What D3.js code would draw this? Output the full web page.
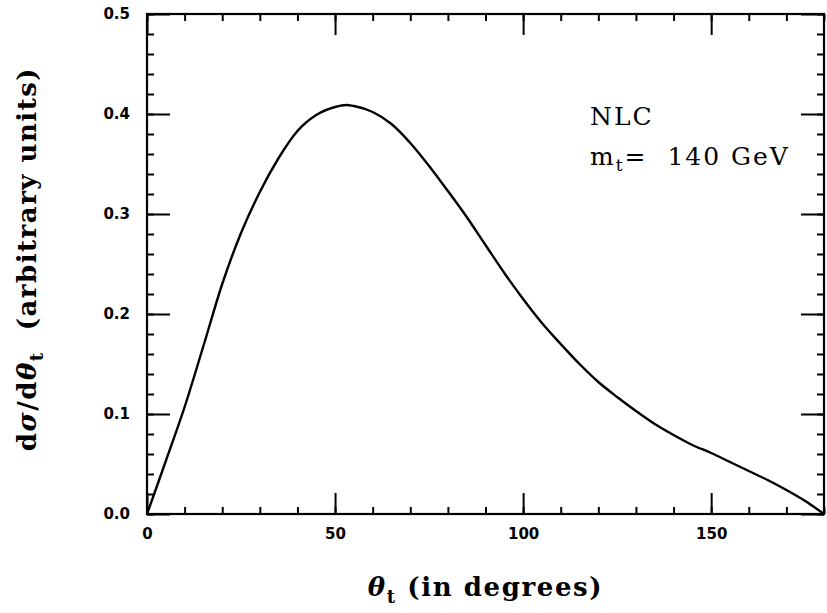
<!DOCTYPE html>
<html>
<head>
<meta charset="utf-8">
<script src="https://cdn.jsdelivr.net/npm/d3@7"></script>
<style>
  body { margin: 0; background: #fff; }
  .tick text { font-family: "DejaVu Sans", sans-serif; font-weight: bold; font-size: 15px; fill: #000; }
  .lbl { font-family: "DejaVu Serif", serif; fill: #000; white-space: pre; }
</style>
</head>
<body>
<svg id="chart" width="827" height="613"></svg>
<script>
/* d sigma / d theta_t curve, NLC, m_t = 140 GeV */

// angle in degrees
const thetaDeg = [0, 2, 5, 10, 15, 20, 25, 30, 35, 40, 45, 50, 53, 55, 60, 65, 70, 75,
  80, 85, 90, 95, 100, 105, 110, 115, 120, 125, 130, 135, 140, 145, 150, 155,
  160, 165, 170, 175, 180];
// cross section (arbitrary units)
const dSigma = [0, 0.021, 0.053, 0.107, 0.168, 0.23, 0.281, 0.322, 0.356, 0.383, 0.399, 0.407,
  0.409, 0.408, 0.402, 0.39, 0.371, 0.348, 0.323, 0.297, 0.269, 0.241, 0.215, 0.191,
  0.17, 0.15, 0.132, 0.117, 0.103, 0.09, 0.079, 0.069, 0.061, 0.052, 0.043, 0.034,
  0.024, 0.013, 0];

const xMajor = [0, 50, 100, 150];
const xMinor = d3.range(0, 181, 10);
const yMajor = [0, 0.1, 0.2, 0.3, 0.4, 0.5];
const yMinor = d3.range(0, 0.501, 0.02);

const margin = { top: 14, right: 3, bottom: 99, left: 147 },
  width = 827 - margin.left - margin.right,
  height = 613 - margin.top - margin.bottom;

const svg = d3.select("#chart")
  .append("g")
  .attr("transform", "translate(" + margin.left + "," + margin.top + ")");

const x = d3.scaleLinear().domain([0, 180]).range([0, width]);
const y = d3.scaleLinear().domain([0, 0.5]).range([height, 0]);

function styleAxis(g) {
  g.select(".domain").remove();
  g.selectAll(".tick line").attr("stroke", "#000").attr("stroke-width", 2);
}

// minor ticks on all four sides, pointing inward
svg.append("g").attr("transform", "translate(0," + height + ")")
  .call(d3.axisBottom(x).tickValues(xMinor).tickSize(-7).tickFormat(""))
  .call(styleAxis);
svg.append("g")
  .call(d3.axisTop(x).tickValues(xMinor).tickSize(-7).tickFormat(""))
  .call(styleAxis);
svg.append("g")
  .call(d3.axisLeft(y).tickValues(yMinor).tickSize(-7).tickFormat(""))
  .call(styleAxis);
svg.append("g").attr("transform", "translate(" + width + ",0)")
  .call(d3.axisRight(y).tickValues(yMinor).tickSize(-7).tickFormat(""))
  .call(styleAxis);

// major ticks
svg.append("g").attr("transform", "translate(0," + height + ")")
  .call(d3.axisBottom(x).tickValues(xMajor).tickSize(-21).tickPadding(14).tickFormat(d3.format("d")))
  .call(styleAxis);
svg.append("g")
  .call(d3.axisTop(x).tickValues(xMajor).tickSize(-21).tickFormat(""))
  .call(styleAxis);
svg.append("g")
  .call(d3.axisLeft(y).tickValues(yMajor).tickSize(-23).tickPadding(17).tickFormat(d3.format(".1f")))
  .call(styleAxis);
svg.append("g").attr("transform", "translate(" + width + ",0)")
  .call(d3.axisRight(y).tickValues(yMajor).tickSize(-23).tickFormat(""))
  .call(styleAxis);

// frame
svg.append("rect")
  .attr("width", width)
  .attr("height", height)
  .attr("fill", "none")
  .attr("stroke", "#000")
  .attr("stroke-width", 2.2);

// the curve
const line = d3.line()
  .x((d, i) => x(thetaDeg[i]))
  .y((d) => y(d))
  .curve(d3.curveMonotoneX);

svg.append("path")
  .datum(dSigma)
  .attr("d", line)
  .attr("fill", "none")
  .attr("stroke", "#000")
  .attr("stroke-width", 2.4);

// x axis title
const xt = svg.append("text")
  .attr("class", "lbl")
  .attr("x", width / 2)
  .attr("y", height + 82)
  .attr("text-anchor", "middle")
  .style("font-size", "26px")
  .style("font-weight", "bold")
  .style("letter-spacing", "1.6px");
xt.append("tspan").style("font-style", "italic").text("θ");
xt.append("tspan").attr("dy", 7).style("font-size", "18px").text("t");
xt.append("tspan").attr("dy", -7).text(" (in degrees)");

// y axis title
const yt = svg.append("text")
  .attr("class", "lbl")
  .attr("text-anchor", "middle")
  .attr("transform", "translate(" + (-111) + "," + (height / 2 - 5) + ")rotate(-90)")
  .style("font-size", "26px")
  .style("font-weight", "bold")
  .style("letter-spacing", "1.5px");
yt.append("tspan").text("d");
yt.append("tspan").style("font-style", "italic").text("σ");
yt.append("tspan").text("/d");
yt.append("tspan").style("font-style", "italic").text("θ");
yt.append("tspan").attr("dy", 7).style("font-size", "18px").text("t");
yt.append("tspan").attr("dy", -7).text("  (arbitrary units)");

// annotation
svg.append("text")
  .attr("class", "lbl")
  .attr("x", 443)
  .attr("y", 111)
  .style("font-size", "25px")
  .style("letter-spacing", "2px")
  .text("NLC");
const mt = svg.append("text")
  .attr("class", "lbl")
  .attr("x", 443)
  .attr("y", 151)
  .style("font-size", "25px")
  .style("letter-spacing", "2px");
mt.append("tspan").text("m");
mt.append("tspan").attr("dy", 6).style("font-size", "17px").text("t");
mt.append("tspan").attr("dy", -6).text("=  140 GeV");
</script>
</body>
</html>
